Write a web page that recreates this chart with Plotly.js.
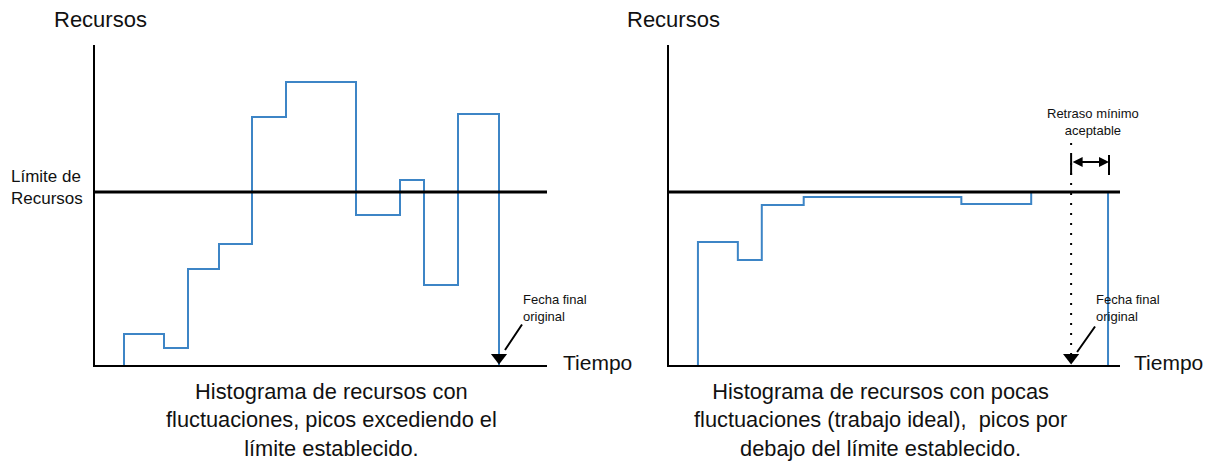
<!DOCTYPE html>
<html>
<head>
<meta charset="utf-8">
<script src="https://cdn.plot.ly/plotly-3.0.1.min.js"></script>
<style>
  html, body { margin: 0; padding: 0; background: #fff; }
  #chart { width: 1220px; height: 463px; }
</style>
</head>
<body>
<div id="chart"></div>
<script>
// time on x, resources on y (arbitrary units)
var timeRange = [0, 45.2]
var resourceRange = [0, 32]
var resourceLimit = 17.3

// left: histogram with big fluctuations
var leftTimes = [2.9, 2.9, 6.9, 9.3, 12.4, 15.7, 19.1, 26.1, 30.5, 32.9, 36.3, 40.4]
var leftLevels = [0, 3.1, 1.7, 9.6, 12.1, 24.8, 28.3, 15.0, 18.5, 8.0, 25.1, 0]
var leftDeadline = 40.4

// right: levelled histogram (ideal)
var rightTimes = [2.9, 2.9, 6.9, 9.3, 13.5, 29.3, 36.3, 44.0]
var rightLevels = [0, 12.3, 10.5, 16.0, 16.8, 16.1, 17.3, 0]
var rightDeadline = 40.3
var delayWindow = [40.3, 44.1]
var delayLevel = 20.3
var dottedTop = 22.2

var blue = '#3d85c6'
var font = 'Liberation Sans, Arial, sans-serif'

function axis(domain, range, anchor) {
  return {
    domain: domain, range: range, anchor: anchor,
    showgrid: false, zeroline: false, showticklabels: false, ticks: '',
    showline: true, linecolor: 'black', linewidth: 2, fixedrange: true
  }
}

function stepTrace(x, y, xa, ya) {
  return {
    x: x, y: y, xaxis: xa, yaxis: ya, type: 'scatter', mode: 'lines',
    line: {color: blue, width: 2, shape: 'hv'}, hoverinfo: 'skip'
  }
}

function limitTrace(xa, ya) {
  return {
    x: timeRange, y: [resourceLimit, resourceLimit], xaxis: xa, yaxis: ya,
    type: 'scatter', mode: 'lines', line: {color: 'black', width: 3}, hoverinfo: 'skip'
  }
}

function deadlineTrace(t, xa, ya) {
  return {
    x: [t], y: [0.75], xaxis: xa, yaxis: ya, type: 'scatter', mode: 'markers',
    marker: {symbol: 'triangle-down', size: 14, color: 'black'}, hoverinfo: 'skip',
    cliponaxis: false
  }
}

var data = [
  stepTrace(leftTimes, leftLevels, 'x', 'y'),
  limitTrace('x', 'y'),
  deadlineTrace(leftDeadline, 'x', 'y'),
  stepTrace(rightTimes, rightLevels, 'x2', 'y2'),
  limitTrace('x2', 'y2'),
  {
    // dotted guide from the original deadline
    x: [rightDeadline, rightDeadline], y: [1, dottedTop], xaxis: 'x2', yaxis: 'y2',
    type: 'scatter', mode: 'lines', line: {color: 'black', width: 2, dash: '2px,8px'},
    hoverinfo: 'skip'
  },
  {
    // end bars of the delay window
    x: [delayWindow[0], delayWindow[0], null, delayWindow[1], delayWindow[1]],
    y: [delayLevel - 1.3, delayLevel + 0.7, null, delayLevel - 1.3, delayLevel + 0.7],
    xaxis: 'x2', yaxis: 'y2', type: 'scatter', mode: 'lines',
    line: {color: 'black', width: 2}, hoverinfo: 'skip'
  },
  deadlineTrace(rightDeadline, 'x2', 'y2')
]

function paperText(text, x, y, size, xanchor, align) {
  return {
    text: text, xref: 'paper', yref: 'paper', x: x / 1220, y: 1 - y / 463,
    xanchor: xanchor, yanchor: 'middle', align: align || 'left', showarrow: false,
    font: {family: font, size: size, color: '#111'}
  }
}

function leader(x, y, ax, ay, xa, ya) {
  return {
    text: '', x: x, y: y, xref: xa, yref: ya, ax: ax, ay: ay,
    showarrow: true, arrowhead: 0, arrowwidth: 2, arrowcolor: 'black', standoff: 0
  }
}

var annotations = [
  paperText('Recursos', 52, 19, 22, 'left'),
  paperText('Recursos', 625, 19, 22, 'left'),
  paperText('Límite de<br>Recursos', 9, 187, 17, 'left'),
  paperText('Tiempo', 561, 362, 21, 'left'),
  paperText('Tiempo', 1132, 362, 21, 'left'),
  paperText('Histograma de recursos con<br>fluctuaciones, picos excediendo el<br>límite establecido.', 331, 420, 21.8, 'center', 'center'),
  paperText('Histograma de recursos con pocas<br>fluctuaciones (trabajo ideal),  picos por<br>debajo del límite establecido.', 880, 420, 21.8, 'center', 'center'),
  {
    text: 'Fecha final<br>original', x: 42.6, y: 5.7, xref: 'x', yref: 'y',
    xanchor: 'left', yanchor: 'middle', align: 'left', showarrow: false,
    font: {family: font, size: 13, color: '#111'}
  },
  {
    text: 'Fecha final<br>original', x: 42.6, y: 5.7, xref: 'x2', yref: 'y2',
    xanchor: 'left', yanchor: 'middle', align: 'left', showarrow: false,
    font: {family: font, size: 13, color: '#111'}
  },
  {
    text: 'Retraso mínimo<br>aceptable', x: 42.5, y: 24.3, xref: 'x2', yref: 'y2',
    xanchor: 'center', yanchor: 'middle', align: 'center', showarrow: false,
    font: {family: font, size: 13, color: '#111'}
  },
  leader(41.0, 1.5, 18, -27, 'x', 'y'),
  leader(40.9, 1.3, 19, -27, 'x2', 'y2'),
  {
    // double arrow for the acceptable delay
    text: '', x: delayWindow[1], y: delayLevel, ax: delayWindow[0], ay: delayLevel,
    xref: 'x2', yref: 'y2', axref: 'x2', ayref: 'y2',
    showarrow: true, arrowhead: 2, arrowside: 'end+start', arrowsize: 1,
    arrowwidth: 2, arrowcolor: 'black', standoff: 0, startstandoff: 0
  }
]

var layout = {
  width: 1220, height: 463,
  margin: {l: 0, r: 0, t: 0, b: 0},
  paper_bgcolor: 'white', plot_bgcolor: 'white',
  showlegend: false,
  xaxis: axis([95 / 1220, 547 / 1220], timeRange, 'y'),
  yaxis: axis([1 - 365 / 463, 1 - 45 / 463], resourceRange, 'x'),
  xaxis2: axis([669 / 1220, 1120 / 1220], timeRange, 'y2'),
  yaxis2: axis([1 - 365 / 463, 1 - 45 / 463], resourceRange, 'x2'),
  annotations: annotations
}

Plotly.newPlot('chart', data, layout, {staticPlot: true})
</script>
</body>
</html>
